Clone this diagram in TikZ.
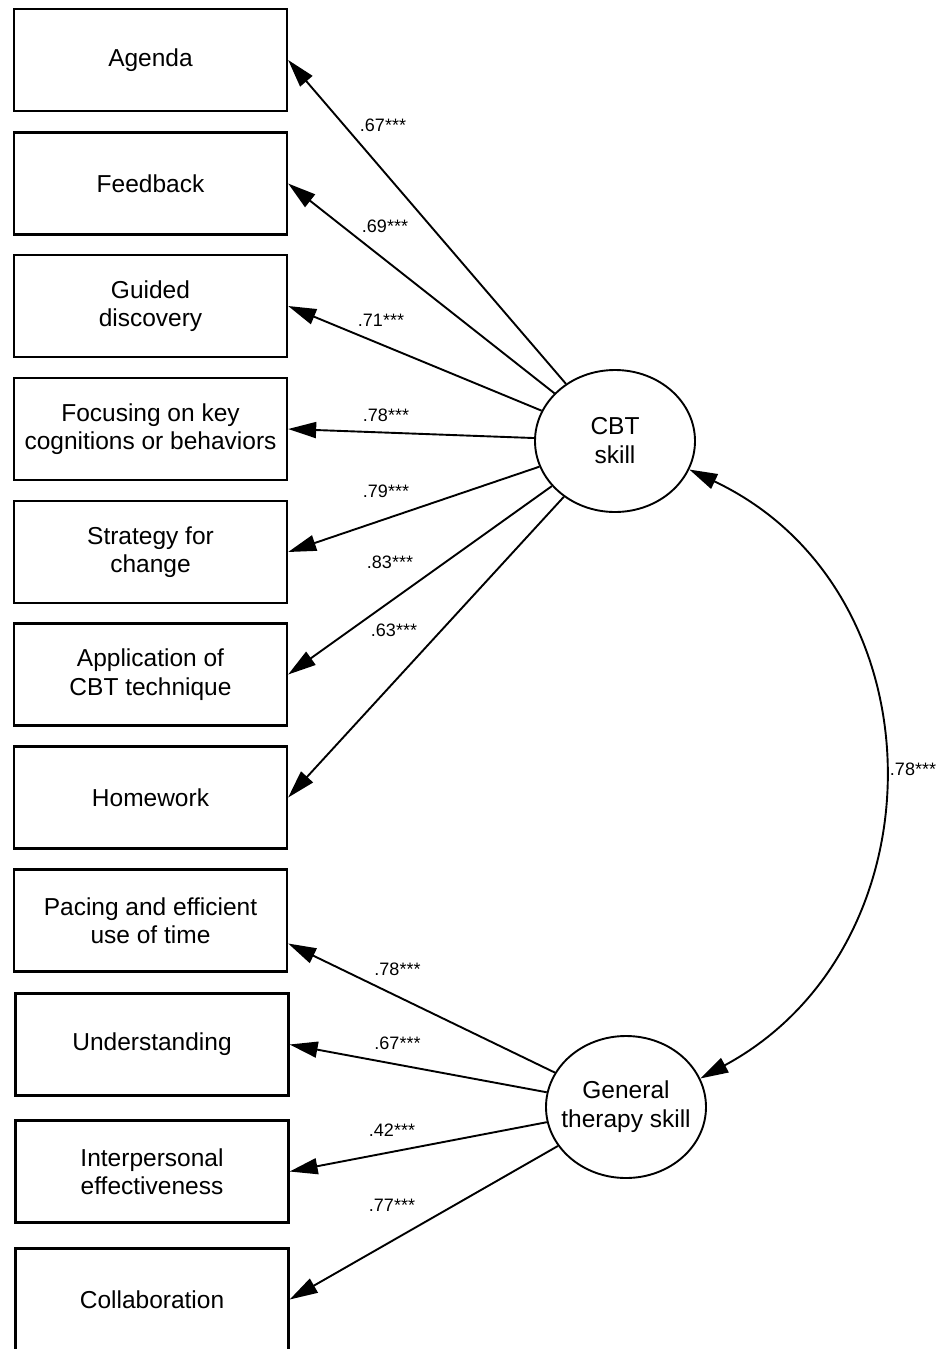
\documentclass[tikz,border=0pt]{standalone}
\usepackage{fontspec}
\setmainfont{Liberation Sans}
\usetikzlibrary{arrows.meta,shapes.geometric,calc}
\begin{document}
\begin{tikzpicture}[x=1pt,y=-1pt,
  box/.style={draw,line width=2.3pt,minimum width=273pt,minimum height=102pt,inner sep=0pt,align=center,font=\fontsize{24.5}{28.5}\selectfont},
  lat/.style={ellipse,draw,line width=1.9pt,minimum width=160pt,minimum height=142pt,inner xsep=-14pt,inner ysep=0pt,align=center,font=\fontsize{24.5}{29}\selectfont},
  link/.style={-{Triangle[length=28pt,width=16pt]},line width=1.9pt},
  dlink/.style={{Triangle[length=28pt,width=16pt]}-{Triangle[length=28pt,width=16pt]},line width=1.9pt},
  lab/.style={font=\fontsize{18}{20}\selectfont,inner sep=0pt}]
\useasboundingbox (0,0) rectangle (949,1349);
% indicator boxes
\node[box] (agenda) at (150.5,60) {Agenda};
\node[box] (feedback) at (150.5,183.5) {Feedback};
\node[box] (guided) at (150.5,306) {Guided\\discovery};
\node[box] (focus) at (150.5,429) {Focusing on key\\cognitions or behaviors};
\node[box] (strategy) at (150.5,552) {Strategy for\\change};
\node[box] (applic) at (150.5,674.5) {Application of\\CBT technique};
\node[box] (homework) at (150.5,797.5) {Homework};
\node[box] (pacing) at (150.5,920.5) {Pacing and efficient\\use of time};
\node[box] (underst) at (152,1044.5) {Understanding};
\node[box] (interp) at (152,1171.5) {Interpersonal\\effectiveness};
\node[box] (collab) at (152,1299.5) {Collaboration};
% latent variables
\node[lat] (cbt) at (615,441) {CBT\\skill};
\node[lat] (gen) at (626,1107) {General\\therapy skill};
% loadings
\draw[link] (cbt) -- (agenda.east);
\draw[link] (cbt) -- (feedback.east);
\draw[link] (cbt) -- (guided.east);
\draw[link] (cbt) -- (focus.east);
\draw[link] (cbt) -- (strategy.east);
\draw[link] (cbt) -- (applic.east);
\draw[link] (cbt) -- (homework.east);
\coordinate (pacingin) at ([yshift=-23pt]pacing.east);
\draw[link] (gen) -- (pacingin);
\draw[link] (gen) -- (underst.east);
\draw[link] (gen) -- (interp.east);
\draw[link] (gen) -- (collab.east);
% covariance
\draw[dlink] (cbt.-21.7) .. controls (944,590) and (944,947) .. (gen.21);
% labels
\node[lab] (l1) at (383,125) {.67***};
\node[lab] (l2) at (385,226) {.69***};
\node[lab] (l3) at (381,320) {.71***};
\node[lab] (l4) at (386,415) {.78***};
\node[lab] (l5) at (386,491.5) {.79***};
\node[lab] (l6) at (390,562) {.83***};
\node[lab] (l7) at (394,630) {.63***};
\node[lab] (l8) at (397.5,969) {.78***};
\node[lab] (l9) at (397.5,1043) {.67***};
\node[lab] (l10) at (392,1130) {.42***};
\node[lab] (l11) at (392,1205) {.77***};
\node[lab] (l12) at (913,769) {.78***};
\end{tikzpicture}
\end{document}
